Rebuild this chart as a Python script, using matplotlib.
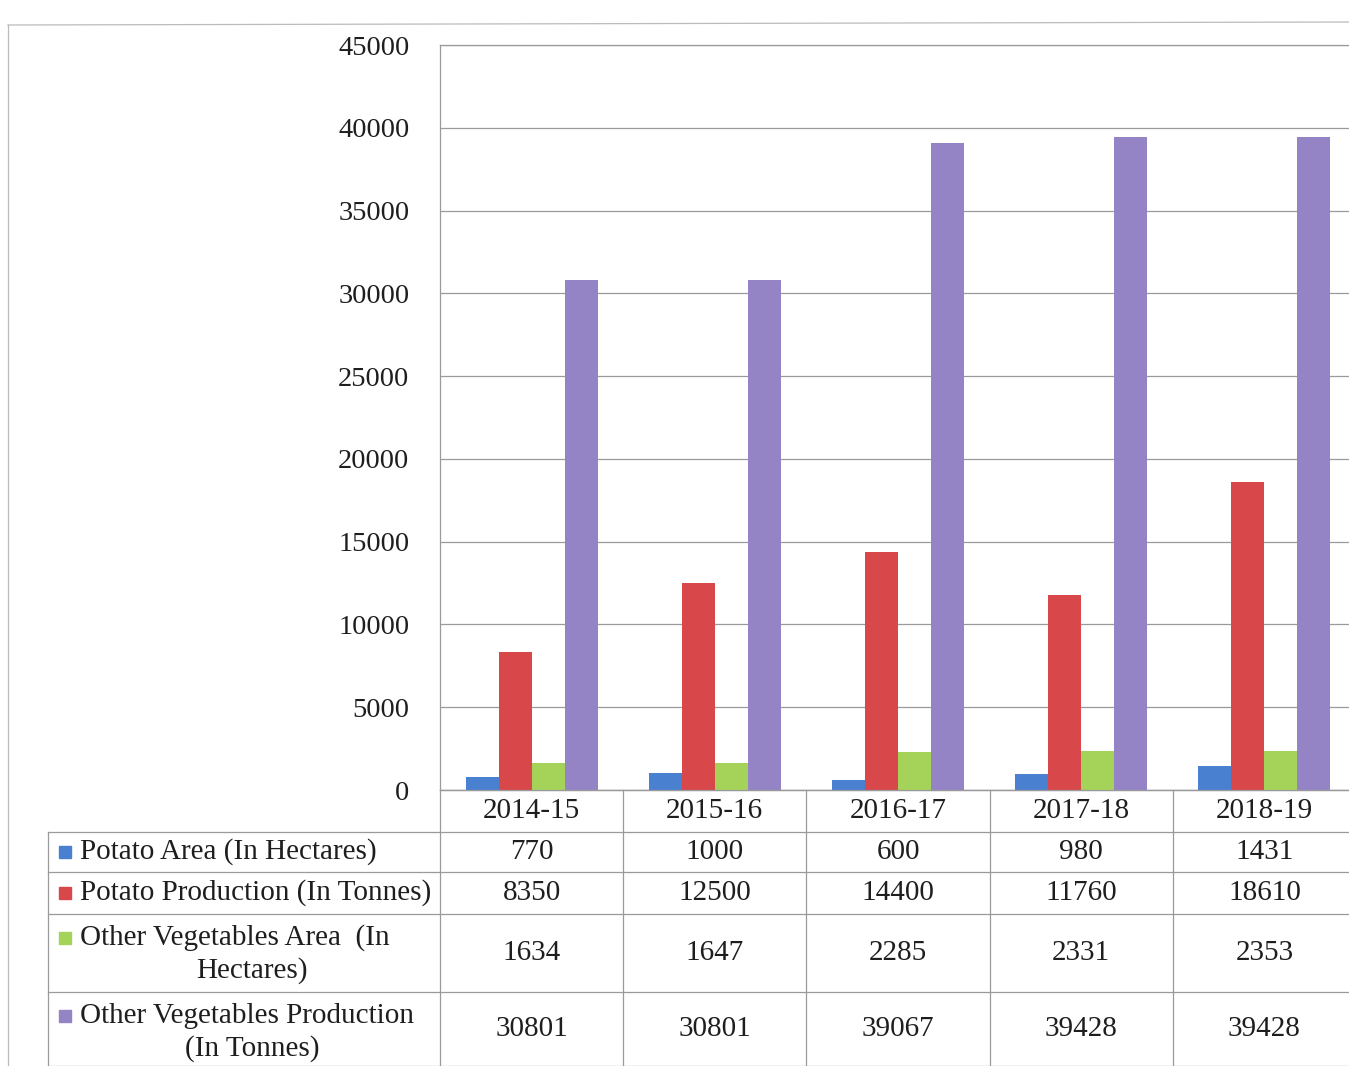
import matplotlib
matplotlib.use("Agg")
import matplotlib.pyplot as plt
import numpy as np
from matplotlib.transforms import blended_transform_factory

years = ["2014-15", "2015-16", "2016-17", "2017-18", "2018-19"]
series_names = ["Potato Area (In Hectares)",
                "Potato Production (In Tonnes)",
                "Other Vegetables Area  (In\nHectares)",
                "Other Vegetables Production\n(In Tonnes)"]
potato_area = [770, 1000, 600, 980, 1431]
potato_prod = [8350, 12500, 14400, 11760, 18610]
veg_area = [1634, 1647, 2285, 2331, 2353]
veg_prod = [30801, 30801, 39067, 39428, 39428]
yticks = [0, 5000, 10000, 15000, 20000, 25000, 30000, 35000, 40000, 45000]

colors = ["#4a80d0", "#d8474a", "#a5d35a", "#9484c6"]
series = [potato_area, potato_prod, veg_area, veg_prod]

W, H = 1349, 1066
fig = plt.figure(figsize=(W / 100, H / 100), dpi=100)
plt.rcParams['font.family'] = ['Liberation Serif', 'DejaVu Serif']

ax_left, ax_right, ax_top, ax_bot = 440, 1356, 45, 790
ax = fig.add_axes([ax_left / W, 1 - ax_bot / H, (ax_right - ax_left) / W, (ax_bot - ax_top) / H])

x = np.arange(len(years))
bw = 0.18
for i, (vals, c) in enumerate(zip(series, colors)):
    ax.bar(x + (i - 1.5) * bw, vals, width=bw, color=c, zorder=3)

ax.set_xlim(-0.5, len(years) - 0.5)
ax.set_ylim(0, 45000)
ax.set_yticks(yticks)
ax.set_yticklabels([str(v) for v in yticks], fontsize=20.5, color="#1e1e1e")
ax.tick_params(axis='y', length=0, pad=22)
ax.set_xticks([])
ax.yaxis.grid(True, color="#9a9a9a", lw=0.9)
ax.set_axisbelow(True)
for s in ax.spines.values():
    s.set_color("#9a9a9a")
    s.set_linewidth(0.9)
ax.spines['right'].set_visible(False)

# table
trans = blended_transform_factory(ax.transData, fig.transFigure)
ftrans = fig.transFigure
def fy(p):
    return 1 - p / H

rows_y = [790, 832, 872, 914, 992, 1066]
line_kw = dict(color="#9a9a9a", lw=0.9, clip_on=False)
label_left = 48
fs = 21
tc = "#1e1e1e"
for k, yy in enumerate(rows_y):
    x0 = ax_left if k == 0 else label_left
    fig.add_artist(plt.Line2D([x0 / W, W / W], [fy(yy), fy(yy)], transform=ftrans, **line_kw))
fig.add_artist(plt.Line2D([label_left / W] * 2, [fy(832), fy(1066)], transform=ftrans, **line_kw))
fig.add_artist(plt.Line2D([ax_left / W] * 2, [fy(790), fy(1066)], transform=ftrans, **line_kw))
for b in np.arange(0.5, len(years) - 1, 1.0):
    fig.add_artist(plt.Line2D([b, b], [fy(790), fy(1066)], transform=trans, **line_kw))

for i, yr in enumerate(years):
    fig.text(i, fy((790 + 832) / 2), yr, transform=trans, ha='center', va='center',
             fontsize=fs, color=tc)
for r, (name, vals, c) in enumerate(zip(series_names, series, colors)):
    yc = fy((rows_y[r + 1] + rows_y[r + 2]) / 2)
    for i, v in enumerate(vals):
        fig.text(i, yc, str(v), transform=trans, ha='center', va='center',
                 fontsize=fs, color=tc)
    lines = name.split("\n")
    if len(lines) == 1:
        fig.text(80 / W, yc, lines[0], transform=ftrans, ha='left', va='center',
                 fontsize=fs, color=tc)
        sq_y = yc
    else:
        y1 = fy(rows_y[r + 1] + 24)
        y2 = fy(rows_y[r + 1] + 57)
        fig.text(80 / W, y1, lines[0], transform=ftrans, ha='left', va='center',
                 fontsize=fs, color=tc)
        fig.text(252 / W, y2, lines[1], transform=ftrans, ha='center', va='center',
                 fontsize=fs, color=tc)
        sq_y = y1
    fig.add_artist(plt.Rectangle((59 / W, sq_y - 6 / H), 12 / W, 12 / H, transform=ftrans,
                                 color=c, clip_on=False))

fig.add_artist(plt.Line2D([8 / W, 8 / W], [fy(25), fy(1066)], transform=ftrans, color="#bbbbbb", lw=0.9))
fig.add_artist(plt.Line2D([8 / W, 1349 / W], [fy(25), fy(22)], transform=ftrans, color="#bbbbbb", lw=0.9))

fig.savefig("out.png", dpi=100, facecolor="white")
